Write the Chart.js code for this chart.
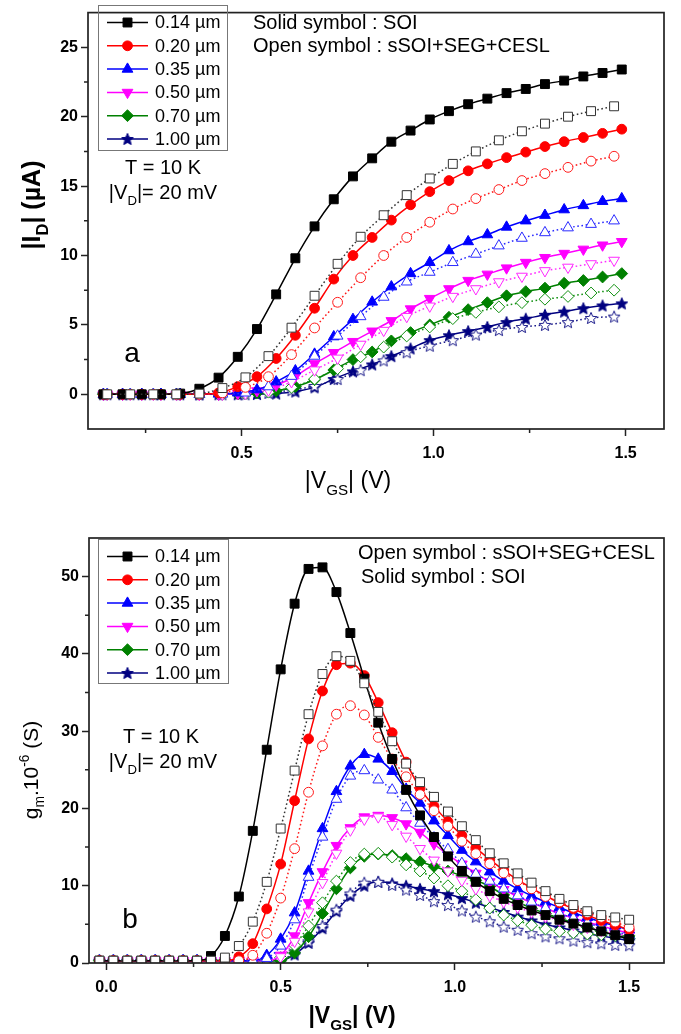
<!DOCTYPE html>
<html>
<head>
<meta charset="utf-8">
<script src="https://cdn.jsdelivr.net/npm/chart.js@4.4.1/dist/chart.umd.min.js"></script>
<style>
  html, body { margin: 0; padding: 0; background: #fff; }
  #wrap { position: relative; width: 681px; height: 1034px; }
  #idChart { position: absolute; left: 0; top: 0; }
  #gmChart { position: absolute; left: 0; top: 500px; }
</style>
</head>
<body>
<div id="wrap">
  <canvas id="idChart" width="681" height="500"></canvas>
  <canvas id="gmChart" width="681" height="534"></canvas>
</div>
<script>
// ---- data ----
const widths = ['0.14 µm', '0.20 µm', '0.35 µm', '0.50 µm', '0.70 µm', '1.00 µm'];

// (a) drain current, solid = SOI, open = sSOI+SEG+CESL
const vgsSolidA = [0.14, 0.19, 0.24, 0.29, 0.34, 0.39, 0.44, 0.49, 0.54, 0.59, 0.64, 0.69, 0.74, 0.79,
                   0.84, 0.89, 0.94, 0.99, 1.04, 1.09, 1.14, 1.19, 1.24, 1.29, 1.34, 1.39, 1.44, 1.49];
const vgsOpenA = [0.15, 0.21, 0.27, 0.33, 0.39, 0.45, 0.51, 0.57, 0.63, 0.69, 0.75, 0.81,
                  0.87, 0.93, 0.99, 1.05, 1.11, 1.17, 1.23, 1.29, 1.35, 1.41, 1.47];

const idSoi014 = [0, 0, 0, 0, 0.05, 0.4, 1.2, 2.7, 4.7, 7.2, 9.8, 12.1, 14.05, 15.7, 17.0, 18.2, 19.0, 19.8, 20.4, 20.9, 21.3, 21.7, 22.0, 22.35, 22.6, 22.9, 23.15, 23.4];
const idSoi020 = [0, 0, 0, 0, 0, 0.02, 0.1, 0.55, 1.27, 2.58, 4.25, 6.2, 8.3, 10.0, 11.3, 12.55, 13.65, 14.6, 15.4, 16.1, 16.6, 17.05, 17.45, 17.85, 18.2, 18.5, 18.8, 19.1];
const idSoi035 = [0, 0, 0, 0, 0, 0, 0.02, 0.1, 0.33, 0.9, 1.7, 2.9, 4.15, 5.4, 6.65, 7.75, 8.7, 9.5, 10.35, 11.0, 11.5, 12.05, 12.5, 12.9, 13.3, 13.6, 13.9, 14.1];
const idSoi050 = [0, 0, 0, 0, 0, 0, 0, 0.05, 0.25, 0.65, 1.3, 2.2, 3.0, 3.8, 4.55, 5.3, 6.15, 6.9, 7.6, 8.2, 8.65, 9.1, 9.5, 9.85, 10.15, 10.45, 10.75, 11.0];
const idSoi070 = [0, 0, 0, 0, 0, 0, 0, 0.02, 0.1, 0.25, 0.55, 1.05, 1.75, 2.5, 3.05, 3.85, 4.45, 5.0, 5.55, 6.1, 6.6, 7.1, 7.4, 7.65, 8.0, 8.2, 8.45, 8.7];
const idSoi100 = [0, 0, 0, 0, 0, 0, 0, 0, 0.02, 0.05, 0.2, 0.5, 1.1, 1.65, 2.15, 2.75, 3.3, 3.9, 4.25, 4.55, 4.85, 5.2, 5.45, 5.73, 5.96, 6.2, 6.4, 6.55];

const idStr014 = [0, 0, 0, 0, 0.05, 0.45, 1.22, 2.75, 4.8, 7.1, 9.4, 11.35, 12.9, 14.35, 15.55, 16.6, 17.5, 18.3, 18.95, 19.5, 20.0, 20.4, 20.75];
const idStr020 = [0, 0, 0, 0, 0, 0.1, 0.5, 1.27, 2.86, 4.78, 6.63, 8.4, 10.0, 11.3, 12.4, 13.35, 14.1, 14.75, 15.4, 15.9, 16.35, 16.8, 17.15];
const idStr035 = [0, 0, 0, 0, 0, 0.02, 0.1, 0.55, 1.3, 2.75, 4.2, 5.6, 7.0, 8.1, 8.8, 9.5, 10.1, 10.7, 11.25, 11.65, 12.0, 12.25, 12.5];
const idStr050 = [0, 0, 0, 0, 0, 0, 0.05, 0.3, 0.9, 1.75, 2.6, 3.6, 4.6, 5.6, 6.35, 7.05, 7.6, 8.1, 8.5, 8.9, 9.15, 9.4, 9.65];
const idStr070 = [0, 0, 0, 0, 0, 0, 0.02, 0.15, 0.5, 1.1, 1.85, 2.7, 3.4, 4.2, 4.85, 5.45, 5.9, 6.3, 6.6, 6.85, 7.05, 7.3, 7.5];
const idStr100 = [0, 0, 0, 0, 0, 0, 0, 0.1, 0.3, 0.6, 1.1, 1.74, 2.44, 3.03, 3.5, 3.9, 4.3, 4.63, 4.85, 5.0, 5.2, 5.5, 5.6];

// (b) transconductance
const vgsB = [-0.02, 0.02, 0.06, 0.10, 0.14, 0.18, 0.22, 0.26, 0.30, 0.34, 0.38, 0.42, 0.46, 0.50, 0.54, 0.58, 0.62, 0.66, 0.70, 0.74,
              0.78, 0.82, 0.86, 0.90, 0.94, 0.98, 1.02, 1.06, 1.10, 1.14, 1.18, 1.22, 1.26, 1.30, 1.34, 1.38, 1.42, 1.46, 1.50];

const gmSoi014 = [0.3, 0.3, 0.3, 0.3, 0.3, 0.3, 0.3, 0.3, 0.9, 3.5, 8.6, 17.1, 27.6, 38.0, 46.5, 51.0, 51.2, 48.0, 42.7, 36.8, 31.1, 26.4, 22.4, 19.1, 16.3, 13.8, 11.9, 10.5, 9.3, 8.3, 7.5, 6.8, 6.2, 5.6, 5.1, 4.6, 4.1, 3.6, 3.1];
const gmSoi020 = [0.3, 0.3, 0.3, 0.3, 0.3, 0.3, 0.3, 0.3, 0.3, 0.3, 0.8, 2.5, 7.0, 12.8, 21.0, 29.0, 35.2, 38.6, 38.8, 37.2, 33.7, 29.8, 26.0, 22.6, 20.3, 18.3, 16.5, 14.9, 13.4, 12.0, 10.8, 9.7, 8.7, 7.8, 7.0, 6.2, 5.5, 4.9, 4.3];
const gmSoi035 = [0.3, 0.3, 0.3, 0.3, 0.3, 0.3, 0.3, 0.3, 0.3, 0.3, 0.3, 0.3, 1.0, 3.1, 6.5, 11.9, 17.4, 22.2, 25.5, 27.0, 26.4, 24.8, 22.5, 20.7, 18.4, 16.5, 14.6, 13.1, 11.8, 10.6, 9.6, 8.7, 7.9, 7.2, 6.5, 5.9, 5.3, 4.8, 4.3];
const gmSoi050 = [0.3, 0.3, 0.3, 0.3, 0.3, 0.3, 0.3, 0.3, 0.3, 0.3, 0.3, 0.3, 0.3, 1.0, 3.5, 7.8, 11.8, 15.2, 17.5, 18.9, 19.1, 18.8, 18.0, 16.9, 15.4, 14.0, 12.8, 11.6, 10.5, 9.5, 8.6, 7.8, 7.1, 6.4, 5.8, 5.3, 4.8, 4.3, 3.9];
const gmSoi070 = [0.3, 0.3, 0.3, 0.3, 0.3, 0.3, 0.3, 0.3, 0.3, 0.3, 0.3, 0.3, 0.3, 0.3, 1.3, 3.4, 6.4, 9.6, 12.3, 13.8, 14.1, 13.9, 13.5, 13.1, 12.5, 11.9, 11.3, 10.7, 9.9, 8.8, 7.9, 7.1, 6.4, 5.8, 5.2, 4.6, 4.1, 3.6, 3.2];
const gmSoi100 = [0.3, 0.3, 0.3, 0.3, 0.3, 0.3, 0.3, 0.3, 0.3, 0.3, 0.3, 0.3, 0.3, 0.3, 1.1, 2.6, 4.5, 6.7, 8.7, 10.0, 10.5, 10.3, 10.0, 9.6, 9.3, 8.9, 8.4, 7.8, 7.2, 6.6, 6.0, 5.5, 5.0, 4.6, 4.2, 3.8, 3.5, 3.2, 2.9];

const gmStr014 = [0.3, 0.3, 0.3, 0.3, 0.3, 0.3, 0.3, 0.3, 0.3, 0.7, 2.2, 5.35, 10.5, 17.4, 24.9, 32.2, 37.4, 39.7, 39.1, 36.2, 32.5, 28.7, 25.8, 23.4, 21.5, 19.6, 17.7, 15.9, 14.2, 12.9, 11.6, 10.4, 9.3, 8.3, 7.5, 6.7, 6.2, 5.9, 5.6];
const gmStr020 = [0.3, 0.3, 0.3, 0.3, 0.3, 0.3, 0.3, 0.3, 0.3, 0.3, 0.3, 1.0, 3.85, 8.4, 14.8, 22.1, 28.1, 32.2, 33.3, 32.1, 29.2, 26.4, 24.1, 21.8, 19.7, 17.7, 15.75, 14.15, 12.85, 11.65, 10.65, 9.6, 8.6, 7.9, 7.2, 6.5, 5.9, 5.3, 4.6];
const gmStr035 = [0.3, 0.3, 0.3, 0.3, 0.3, 0.3, 0.3, 0.3, 0.3, 0.3, 0.3, 0.3, 0.6, 2.2, 5.6, 11.1, 16.3, 21.2, 24.2, 24.9, 23.7, 22.4, 20.1, 18.1, 16.2, 14.7, 12.9, 11.5, 10.6, 9.6, 8.7, 7.9, 7.1, 6.4, 5.8, 5.2, 4.6, 4.1, 3.6];
const gmStr050 = [0.3, 0.3, 0.3, 0.3, 0.3, 0.3, 0.3, 0.3, 0.3, 0.3, 0.3, 0.3, 0.3, 0.8, 2.8, 6.6, 10.4, 14.2, 17.2, 18.6, 18.9, 17.9, 16.4, 14.8, 13.3, 11.9, 10.7, 9.6, 8.7, 7.9, 7.2, 6.6, 6.0, 5.5, 5.0, 4.6, 4.2, 3.8, 3.5];
const gmStr070 = [0.3, 0.3, 0.3, 0.3, 0.3, 0.3, 0.3, 0.3, 0.3, 0.3, 0.3, 0.3, 0.3, 0.7, 2.3, 4.8, 7.8, 10.6, 13.0, 14.1, 14.2, 13.7, 12.7, 11.9, 11.0, 10.0, 9.3, 8.2, 7.1, 6.2, 5.5, 4.9, 4.4, 4.1, 3.9, 3.75, 3.65, 3.55, 3.5];
const gmStr100 = [0.3, 0.3, 0.3, 0.3, 0.3, 0.3, 0.3, 0.3, 0.3, 0.3, 0.3, 0.3, 0.3, 0.3, 1.5, 2.8, 4.8, 6.9, 9.0, 10.4, 10.5, 10.1, 9.5, 8.8, 8.0, 7.5, 6.8, 6.0, 5.4, 4.7, 4.3, 3.85, 3.45, 3.2, 2.9, 2.7, 2.55, 2.35, 2.3];

// tick marks
const idTicks = [0, 5, 10, 15, 20, 25];
const idMinor = [2.5, 7.5, 12.5, 17.5, 22.5];
const vgsTicksA = [0.5, 1.0, 1.5];
const vgsMinorA = [0.25, 0.75, 1.25];
const gmTicks = [0, 10, 20, 30, 40, 50];
const gmMinor = [5, 15, 25, 35, 45];
const vgsTicksB = [0.0, 0.5, 1.0, 1.5];
const vgsMinorB = [0.25, 0.75, 1.25];

// ---- styling ----
const FAMILY = "'Liberation Sans', Arial, Helvetica, sans-serif";
const colors = ['#000000', '#ff0000', '#0000ff', '#ff00ff', '#008000', '#000080'];
const openColors = ['#333333', '#ff1a1a', '#2a2aff', '#ff2aff', '#119011', '#1a1a8a'];

function starImage(fill, stroke, size) {
  const c = document.createElement('canvas');
  c.width = c.height = size;
  const g = c.getContext('2d');
  const R = size / 2 - 0.8, r = R * 0.45, cx = size / 2, cy = size / 2 + 0.6;
  g.beginPath();
  for (let k = 0; k < 10; k++) {
    const a = -Math.PI / 2 + k * Math.PI / 5;
    const rr = k % 2 ? r : R;
    g.lineTo(cx + rr * Math.cos(a), cy + rr * Math.sin(a));
  }
  g.closePath();
  g.fillStyle = fill;
  g.fill();
  g.lineWidth = 1;
  g.strokeStyle = stroke;
  g.stroke();
  return c;
}

const starSolid = starImage(colors[5], colors[5], 14);
const starOpen = starImage('#ffffff', openColors[5], 14);

// marker per channel length: square, circle, up/down triangle, diamond, star
const markers = [
  { style: () => 'rect', rot: 0, r: 6.3 },
  { style: () => 'circle', rot: 0, r: 4.9 },
  { style: () => 'triangle', rot: 0, r: 6.2 },
  { style: () => 'triangle', rot: 180, r: 6.2 },
  { style: () => 'rectRot', rot: 0, r: 5.9 },
  { style: open => (open ? starOpen : starSolid), rot: 0, r: 6 }
];

function series(xs, ys, i, open) {
  const m = markers[i];
  return {
    data: xs.map((x, j) => ({ x: x, y: ys[j] })),
    borderColor: open ? openColors[i] : colors[i],
    borderWidth: 1.5,
    borderDash: open ? [1.6, 2.6] : [],
    cubicInterpolationMode: 'monotone',
    pointStyle: m.style(open),
    pointRotation: m.rot,
    pointRadius: m.r,
    pointBorderWidth: 1,
    pointBackgroundColor: open ? '#ffffff' : colors[i],
    pointBorderColor: open ? openColors[i] : colors[i],
    fill: false
  };
}

function buildSets(solidX, solid, openX, open) {
  const sets = [];
  for (let i = 0; i < 6; i++) {
    sets.push(series(openX, open[i], i, true));
    sets.push(series(solidX, solid[i], i, false));
  }
  return sets;
}

// text with _{sub} and ^{sup} runs
function parseRich(str) {
  const parts = [];
  const re = /([_^])\{([^}]*)\}/g;
  let last = 0, m;
  while ((m = re.exec(str))) {
    if (m.index > last) parts.push({ s: str.slice(last, m.index) });
    parts.push({ s: m[2], sub: m[1] === '_', sup: m[1] === '^' });
    last = re.lastIndex;
  }
  if (last < str.length) parts.push({ s: str.slice(last) });
  return parts;
}

function richText(ctx, t) {
  const parts = parseRich(t.text);
  const weight = t.bold ? 'bold ' : '';
  const fontFor = p => weight + ((p.sub || p.sup) ? t.size * 0.66 : t.size) + 'px ' + FAMILY;
  let total = 0;
  parts.forEach(p => { ctx.font = fontFor(p); total += ctx.measureText(p.s).width; });
  ctx.save();
  ctx.translate(t.x, t.y);
  if (t.rotate) ctx.rotate(t.rotate);
  ctx.fillStyle = '#000';
  ctx.textAlign = 'left';
  ctx.textBaseline = 'alphabetic';
  let cx = t.align === 'left' ? 0 : -total / 2;
  const base = t.size * 0.36;
  parts.forEach(p => {
    ctx.font = fontFor(p);
    const dy = p.sub ? t.size * 0.3 : (p.sup ? -t.size * 0.42 : 0);
    ctx.fillText(p.s, cx, base + dy);
    cx += ctx.measureText(p.s).width;
  });
  ctx.restore();
}

// frame, minor ticks, inset legend and labels
const decor = {
  id: 'decor',
  afterDraw(chart, args, o) {
    const ctx = chart.ctx, a = chart.chartArea;
    const xs = chart.scales.x, ys = chart.scales.y;
    ctx.save();
    ctx.strokeStyle = '#222';
    ctx.lineWidth = 1.5;
    ctx.beginPath();
    o.minorX.forEach(v => {
      const p = xs.getPixelForValue(v);
      ctx.moveTo(p, a.bottom);
      ctx.lineTo(p, a.bottom + 4);
    });
    o.minorY.forEach(v => {
      const p = ys.getPixelForValue(v);
      ctx.moveTo(a.left, p);
      ctx.lineTo(a.left - 4, p);
    });
    ctx.stroke();
    ctx.lineWidth = 1.7;
    ctx.strokeRect(a.left, a.top, a.right - a.left, a.bottom - a.top);

    const L = o.legend;
    ctx.strokeStyle = '#777';
    ctx.lineWidth = 1;
    ctx.strokeRect(L.x + 0.5, L.y + 0.5, L.w, L.h);
    widths.forEach((label, i) => {
      const y = L.y + 17.5 + i * 23.3;
      ctx.strokeStyle = colors[i];
      ctx.lineWidth = 1.5;
      ctx.beginPath();
      ctx.moveTo(L.x + 9, y);
      ctx.lineTo(L.x + 50, y);
      ctx.stroke();
      const m = markers[i];
      ctx.fillStyle = colors[i];
      ctx.strokeStyle = colors[i];
      ctx.lineWidth = 1;
      Chart.helpers.drawPoint(ctx, { pointStyle: m.style(false), rotation: m.rot, radius: m.r, borderWidth: 1 }, L.x + 29.5, y);
      ctx.fillStyle = '#000';
      ctx.font = '18px ' + FAMILY;
      ctx.textAlign = 'left';
      ctx.textBaseline = 'middle';
      ctx.fillText(label, L.x + 57, y + 1);
    });
    o.texts.forEach(t => richText(ctx, t));
    ctx.restore();
  }
};

function axes(c) {
  const tickFont = { family: FAMILY, size: 16, weight: 'bold' };
  return {
    x: {
      type: 'linear', min: c.xMin, max: c.xMax,
      afterBuildTicks: s => { s.ticks = c.xTicks.map(v => ({ value: v })); },
      afterFit: s => { s.height = c.xHeight; },
      border: { display: false },
      grid: { drawOnChartArea: false, tickLength: 7, tickWidth: 1.5, tickColor: '#222' },
      ticks: { font: tickFont, color: '#000', padding: c.xPad, maxRotation: 0, autoSkip: false,
               callback: v => v.toFixed(1) }
    },
    y: {
      type: 'linear', min: c.yMin, max: c.yMax,
      afterBuildTicks: s => { s.ticks = c.yTicks.map(v => ({ value: v })); },
      afterFit: s => { s.width = c.yWidth; },
      border: { display: false },
      grid: { drawOnChartArea: false, tickLength: 7, tickWidth: 1.5, tickColor: '#222' },
      ticks: { font: tickFont, color: '#000', padding: 3, autoSkip: false, callback: v => String(v) }
    }
  };
}

// (a) |ID| vs |VGS|
new Chart(document.getElementById('idChart'), {
  type: 'line',
  data: {
    datasets: buildSets(vgsSolidA, [idSoi014, idSoi020, idSoi035, idSoi050, idSoi070, idSoi100],
                        vgsOpenA, [idStr014, idStr020, idStr035, idStr050, idStr070, idStr100])
  },
  options: {
    responsive: false, animation: false, events: [],
    layout: { padding: { top: 4, right: 17, left: 0, bottom: 0 }, autoPadding: false },
    scales: axes({ xMin: 0.1, xMax: 1.6, xTicks: vgsTicksA, xHeight: 71, xPad: 8,
                   yMin: -2.5, yMax: 27.5, yTicks: idTicks, yWidth: 88 }),
    plugins: {
      legend: { display: false }, tooltip: { enabled: false },
      decor: {
        minorX: vgsMinorA, minorY: idMinor,
        legend: { x: 98, y: 5, w: 129, h: 145 },
        texts: [
          { text: 'Solid symbol : SOI', x: 253, y: 22, size: 20, align: 'left' },
          { text: 'Open symbol : sSOI+SEG+CESL', x: 253, y: 45, size: 20, align: 'left' },
          { text: 'T = 10 K', x: 163, y: 167, size: 20 },
          { text: '|V_{D}|= 20 mV', x: 163, y: 192, size: 20 },
          { text: 'a', x: 132, y: 352, size: 28 },
          { text: '|I_{D}| (µA)', x: 31, y: 205, size: 25, bold: true, rotate: -Math.PI / 2 },
          { text: '|V_{GS}| (V)', x: 348, y: 480, size: 23 }
        ]
      }
    }
  },
  plugins: [decor]
});

// (b) gm vs |VGS|
new Chart(document.getElementById('gmChart'), {
  type: 'line',
  data: {
    datasets: buildSets(vgsB, [gmSoi014, gmSoi020, gmSoi035, gmSoi050, gmSoi070, gmSoi100],
                        vgsB, [gmStr014, gmStr020, gmStr035, gmStr050, gmStr070, gmStr100])
  },
  options: {
    responsive: false, animation: false, events: [],
    layout: { padding: { top: 38, right: 17, left: 0, bottom: 0 }, autoPadding: false },
    scales: axes({ xMin: -0.05, xMax: 1.6, xTicks: vgsTicksB, xHeight: 71, xPad: 8,
                   yMin: 0, yMax: 55, yTicks: gmTicks, yWidth: 89 }),
    plugins: {
      legend: { display: false }, tooltip: { enabled: false },
      decor: {
        minorX: vgsMinorB, minorY: gmMinor,
        legend: { x: 98, y: 39, w: 130, h: 144 },
        texts: [
          { text: 'Open symbol : sSOI+SEG+CESL', x: 358, y: 52, size: 20, align: 'left' },
          { text: 'Solid symbol : SOI', x: 361, y: 76, size: 20, align: 'left' },
          { text: 'T = 10 K', x: 161, y: 236, size: 20 },
          { text: '|V_{D}|= 20 mV', x: 163, y: 261, size: 20 },
          { text: 'b', x: 130, y: 418, size: 28 },
          { text: 'g_{m}.10^{-6} (S)', x: 30, y: 270, size: 21, rotate: -Math.PI / 2 },
          { text: '|V_{GS}| (V)', x: 352, y: 515, size: 23, bold: true }
        ]
      }
    }
  },
  plugins: [decor]
});
</script>
</body>
</html>
